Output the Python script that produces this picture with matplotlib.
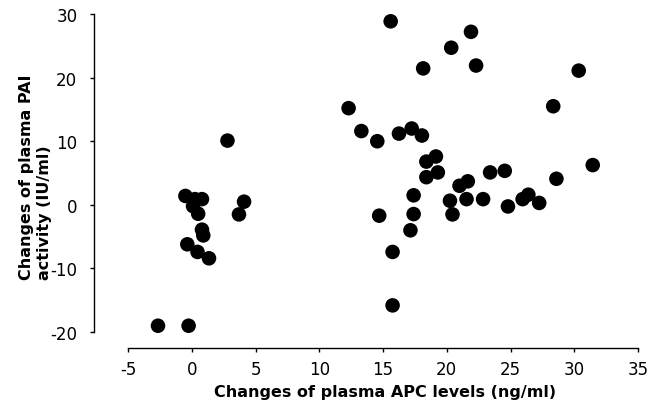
import matplotlib
matplotlib.use("Agg")
import matplotlib.pyplot as plt

plt.rcParams["axes.unicode_minus"] = False

# changes of plasma APC levels (ng/ml) vs changes of plasma PAI activity (IU/ml)
apc = [-0.5, 0.25, 0.8, 0.1, 0.5, 2.8, 4.1, 3.7, 0.8, 0.9, -0.35, 0.45, 1.35, -2.65, -0.25,
       12.3, 13.3, 14.55, 16.25, 17.25, 18.05, 18.4, 19.15, 19.3, 18.4, 21.0, 21.65, 17.4,
       14.7, 17.4, 17.15, 15.75, 15.75, 20.25, 20.45, 21.55, 23.4, 24.55, 22.85, 24.8,
       25.95, 26.4, 27.25, 28.6, 28.35, 30.35, 31.45, 15.6, 21.9, 20.35, 18.15, 22.3]
pai = [1.4, 0.9, 0.9, -0.2, -1.4, 10.1, 0.5, -1.5, -3.9, -4.8, -6.2, -7.4, -8.4, -19.0, -19.0,
       15.2, 11.6, 10.0, 11.2, 12.0, 10.9, 6.8, 7.6, 5.1, 4.35, 3.0, 3.7, 1.5,
       -1.7, -1.45, -4.0, -7.4, -15.8, 0.65, -1.5, 0.9, 5.1, 5.35, 0.9, -0.25,
       0.9, 1.6, 0.3, 4.1, 15.5, 21.1, 6.25, 28.85, 27.2, 24.7, 21.45, 21.9]

xticks = [-5, 0, 5, 10, 15, 20, 25, 30, 35]
yticks = [-20, -10, 0, 10, 20, 30]

fig = plt.figure(figsize=(6.62, 4.06), dpi=100)
ax = fig.add_axes([94 / 662, 1 - 349 / 406, (638 - 94) / 662, (349 - 15) / 406])

ax.scatter(apc, pai, s=110, color="black", edgecolors="none", clip_on=False, zorder=3)

ax.set_xlim(-7.67, 35)
ax.set_ylim(-22.5, 30)
ax.set_xticks(xticks)
ax.set_yticks(yticks)
ax.spines["top"].set_visible(False)
ax.spines["right"].set_visible(False)
ax.spines["left"].set_bounds(-20, 30)
ax.spines["bottom"].set_bounds(-5, 35)
for sp in ("left", "bottom"):
    ax.spines[sp].set_linewidth(1.0)
ax.tick_params(axis="y", direction="out", length=3, width=1, pad=9, labelsize=12)
ax.tick_params(axis="x", direction="out", length=3, width=1, pad=6, labelsize=12)

fig.text(385 / 662, 1 - 393 / 406, "Changes of plasma APC levels (ng/ml)",
         ha="center", va="center", fontsize=11.5, fontweight="bold")
fig.text(36 / 662, 1 - 177 / 406, "Changes of plasma PAI\nactivity (IU/ml)",
         ha="center", va="center", rotation=90, fontsize=11.5, fontweight="bold",
         multialignment="left", linespacing=1.25)

fig.savefig("out.png", dpi=100)
